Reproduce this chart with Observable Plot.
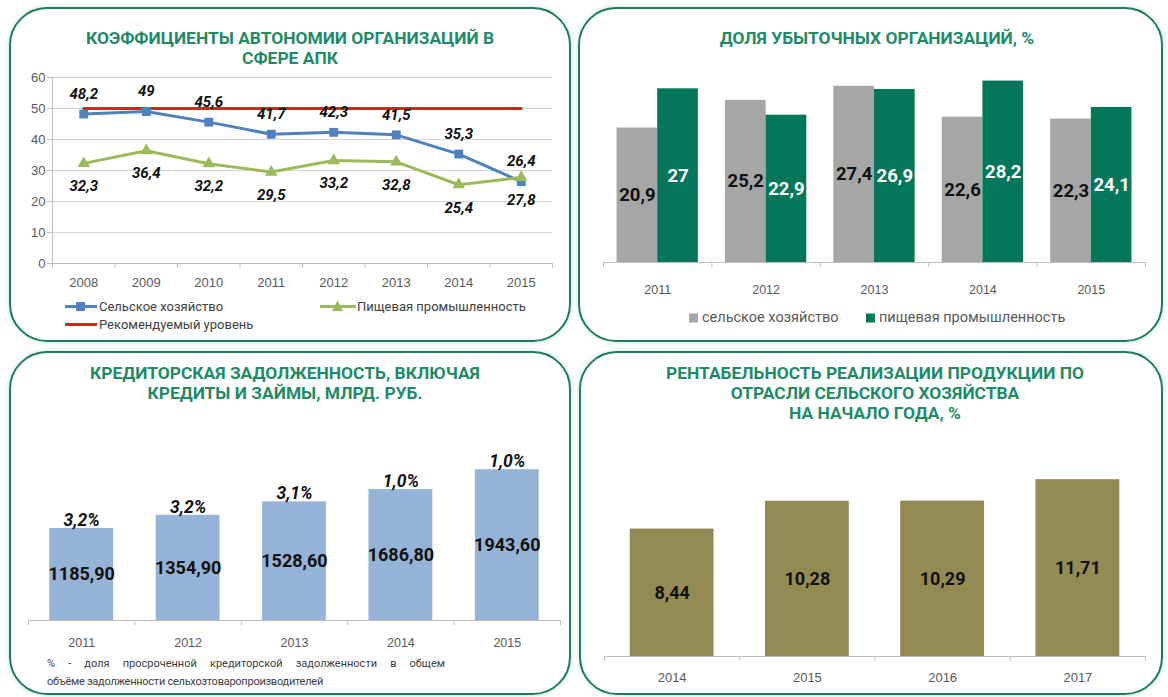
<!DOCTYPE html>
<html>
<head>
<meta charset="utf-8">
<script src="https://cdn.jsdelivr.net/npm/d3@7"></script>
<script src="https://cdn.jsdelivr.net/npm/@observablehq/plot@0.6"></script>
<style>
  body { margin: 0; background: #fff; }
  #page { position: relative; width: 1168px; height: 697px; overflow: hidden; background: #fff; font-family: Roboto, "Open Sans", sans-serif; }
  .panel { position: absolute; border: 2.5px solid #1e7b5c; border-radius: 38px; box-sizing: border-box; box-shadow: 0 0 5px rgba(120,190,170,0.45); }
  .title { position: absolute; text-align: center; color: #1f8a67; font-weight: 700; font-size: 17.4px; line-height: 20px; white-space: nowrap; transform: translateX(-50%); }
  .plot { position: absolute; }
  .legend { position: absolute; color: #404040; white-space: nowrap; display: flex; align-items: center; }
  .legend svg { display: block; }
  .note { position: absolute; font-size: 11px; color: #404040; line-height: 18px; }
</style>
</head>
<body>
<div id="page">
  <div class="panel" style="left:9px;top:7px;width:562px;height:335px"></div>
  <div class="panel" style="left:578px;top:7px;width:585px;height:335px"></div>
  <div class="panel" style="left:9px;top:351px;width:562px;height:344px"></div>
  <div class="panel" style="left:579px;top:351px;width:584px;height:344px"></div>

  <div class="title" style="left:290px;top:28px">КОЭФФИЦИЕНТЫ АВТОНОМИИ ОРГАНИЗАЦИЙ В<br>СФЕРЕ АПК</div>
  <div class="title" style="left:877px;top:28px">ДОЛЯ УБЫТОЧНЫХ ОРГАНИЗАЦИЙ, %</div>
  <div class="title" style="left:285px;top:363px">КРЕДИТОРСКАЯ ЗАДОЛЖЕННОСТЬ, ВКЛЮЧАЯ<br>КРЕДИТЫ И ЗАЙМЫ, МЛРД. РУБ.</div>
  <div class="title" style="left:875px;top:363px">РЕНТАБЕЛЬНОСТЬ РЕАЛИЗАЦИИ ПРОДУКЦИИ ПО<br>ОТРАСЛИ СЕЛЬСКОГО ХОЗЯЙСТВА<br>НА НАЧАЛО ГОДА, %</div>

  <div class="plot" id="p1" style="left:10px;top:60px;width:560px;height:250px"></div>
  <div class="plot" id="p2" style="left:579px;top:60px;width:583px;height:250px"></div>
  <div class="plot" id="p3" style="left:10px;top:400px;width:560px;height:260px"></div>
  <div class="plot" id="p4" style="left:580px;top:430px;width:582px;height:260px"></div>

  <div id="leg1"></div>
  <div id="leg2"></div>

  <div class="note" style="left:47px;top:655px;width:398px;text-align:justify;text-align-last:justify">% - доля просроченной кредиторской задолженности в общем</div>
  <div class="note" style="left:47px;top:673px;letter-spacing:-0.25px">объёме задолженности сельхозтоваропроизводителей</div>
</div>
<script>
// ---------- DATA ----------
const years1 = [2008, 2009, 2010, 2011, 2012, 2013, 2014, 2015];
const agriAutonomy = [48.2, 49, 45.6, 41.7, 42.3, 41.5, 35.3, 26.4];
const foodAutonomy = [32.3, 36.4, 32.2, 29.5, 33.2, 32.8, 25.4, 27.8];
const recommendedLevel = [50, 50, 50, 50, 50, 50, 50, 50];
const yTicks1 = [0, 10, 20, 30, 40, 50, 60];
const series1 = ["Сельское хозяйство", "Пищевая промышленность", "Рекомендуемый уровень"];

const years2 = [2011, 2012, 2013, 2014, 2015];
const agriLoss = [20.9, 25.2, 27.4, 22.6, 22.3];
const foodLoss = [27, 22.9, 26.9, 28.2, 24.1];
const series2 = ["сельское хозяйство", "пищевая промышленность"];

const years3 = [2011, 2012, 2013, 2014, 2015];
const debt = [1185.90, 1354.90, 1528.60, 1686.80, 1943.60];
const overdueShare = [3.2, 3.2, 3.1, 1.0, 1.0];

const years4 = [2014, 2015, 2016, 2017];
const profitability = [8.44, 10.28, 10.29, 11.71];

// ---------- HELPERS ----------
const comma = v => String(v).replace(".", ",");
const fixed = (v, n) => v.toFixed(n).replace(".", ",");
const axisFont = "'Liberation Sans', Arial, sans-serif";
const labelFont = "Roboto, 'Open Sans', sans-serif";
const gridC = "#d6d6d6", axisC = "#bfbfbf";
const C = {blue: "#4f81bd", green: "#9bbb59", red: "#e0201b", gray: "#a6a6a6", dgreen: "#04775a", lblue: "#95b3d7", olive: "#948a54"};

// ---------- PANEL 1 ----------
const d1 = years1.map((y, i) => ({year: y, agri: agriAutonomy[i], food: foodAutonomy[i], rec: recommendedLevel[i]}));
const bounds1 = d3.range(years1[0] - 0.5, years1[years1.length - 1] + 1, 1);
const p1 = Plot.plot({
  width: 560, height: 250, marginTop: 17, marginBottom: 47, marginLeft: 42, marginRight: 18,
  style: {fontFamily: axisFont, fontSize: "13px", color: "#595959", background: "transparent"},
  x: {domain: [years1[0] - 0.5, years1[years1.length - 1] + 0.5], ticks: years1, tickFormat: d => String(d), tickSize: 0, tickPadding: 14, label: null},
  y: {domain: [0, 60], ticks: yTicks1, tickSize: 0, tickPadding: 7, label: null},
  marks: [
    Plot.ruleY(yTicks1, {stroke: gridC, strokeWidth: 1}),
    Plot.ruleY([0], {stroke: axisC}),
    Plot.ruleX([bounds1[0]], {y1: 0, y2: 60, stroke: axisC}),
    Plot.ruleY(yTicks1, {x1: bounds1[0] - 0.08, x2: bounds1[0], stroke: axisC}),
    Plot.ruleX(bounds1, {y1: 0, y2: -1.6, stroke: axisC}),
    Plot.line(d1, {x: "year", y: "rec", stroke: C.red, strokeWidth: 3}),
    Plot.line(d1, {x: "year", y: "agri", stroke: C.blue, strokeWidth: 3}),
    Plot.dot(d1, {x: "year", y: "agri", symbol: "square", r: 5, fill: C.blue, stroke: "none"}),
    Plot.line(d1, {x: "year", y: "food", stroke: C.green, strokeWidth: 3}),
    Plot.dot(d1, {x: "year", y: "food", symbol: "triangle", r: 4.6, fill: C.green, stroke: "none"}),
    Plot.text(d1, {x: "year", y: "agri", text: d => comma(d.agri), dy: -20, fontSize: 15, fontWeight: 700, fontStyle: "italic", fill: "#111", fontFamily: labelFont}),
    Plot.text(d1, {x: "year", y: "food", text: d => comma(d.food), dy: 23, fontSize: 15, fontWeight: 700, fontStyle: "italic", fill: "#111", fontFamily: labelFont})
  ]
});
document.getElementById("p1").append(p1);

// ---------- PANEL 2 ----------
const d2 = years2.map((y, i) => ({year: y, agri: agriLoss[i], food: foodLoss[i]}));
const bounds2 = d3.range(years2[0] - 0.5, years2[years2.length - 1] + 1, 1);
const bw2 = 0.375;
const p2 = Plot.plot({
  width: 583, height: 250, marginTop: 9, marginBottom: 48, marginLeft: 24, marginRight: 17,
  style: {fontFamily: axisFont, fontSize: "12.5px", color: "#595959", background: "transparent"},
  x: {domain: [years2[0] - 0.5, years2[years2.length - 1] + 0.5], ticks: years2, tickFormat: d => String(d), tickSize: 0, tickPadding: 23, label: null},
  y: {domain: [0, 30], axis: null},
  marks: [
    Plot.rectY(d2, {x1: d => d.year - bw2, x2: d => d.year, y1: 0, y2: "agri", fill: C.gray}),
    Plot.rectY(d2, {x1: d => d.year, x2: d => d.year + bw2, y1: 0, y2: "food", fill: C.dgreen}),
    Plot.ruleY([0], {stroke: axisC}),
    Plot.ruleX(bounds2, {y1: 0, y2: -0.8, stroke: axisC}),
    Plot.text(d2, {x: d => d.year - bw2 / 2, y: d => d.agri / 2, text: d => comma(d.agri), fontSize: 18.5, fontWeight: 700, fill: "#111", fontFamily: labelFont}),
    Plot.text(d2, {x: d => d.year + bw2 / 2, y: d => d.food / 2, text: d => comma(d.food), fontSize: 18.5, fontWeight: 700, fill: "#fff", fontFamily: labelFont})
  ]
});
document.getElementById("p2").append(p2);

// ---------- PANEL 3 ----------
const d3data = years3.map((y, i) => ({year: y, debt: debt[i], share: overdueShare[i]}));
const bounds3 = d3.range(years3[0] - 0.5, years3[years3.length - 1] + 1, 1);
const p3 = Plot.plot({
  width: 560, height: 260, marginTop: 26, marginBottom: 40, marginLeft: 18, marginRight: 10,
  style: {fontFamily: axisFont, fontSize: "12.5px", color: "#595959", background: "transparent"},
  x: {domain: [years3[0] - 0.5, years3[years3.length - 1] + 0.5], ticks: years3, tickFormat: d => String(d), tickSize: 0, tickPadding: 18, label: null},
  y: {domain: [0, 2500], axis: null},
  marks: [
    Plot.rectY(d3data, {x1: d => d.year - 0.3, x2: d => d.year + 0.3, y1: 0, y2: "debt", fill: C.lblue}),
    Plot.ruleY([0], {stroke: axisC}),
    Plot.ruleX(bounds3, {y1: 0, y2: -65, stroke: axisC}),
    Plot.text(d3data, {x: "year", y: d => d.debt / 2, text: d => fixed(d.debt, 2), fontSize: 18, fontWeight: 700, fill: "#111", fontFamily: labelFont}),
    Plot.text(d3data, {x: "year", y: "debt", text: d => fixed(d.share, 1) + "%", dy: -8, fontSize: 17.5, fontWeight: 700, fontStyle: "italic", fill: "#111", fontFamily: labelFont})
  ]
});
document.getElementById("p3").append(p3);

// ---------- PANEL 4 ----------
const d4 = years4.map((y, i) => ({year: y, value: profitability[i]}));
const bounds4 = d3.range(years4[0] - 0.5, years4[years4.length - 1] + 1, 1);
const p4 = Plot.plot({
  width: 582, height: 260, marginTop: 14.6, marginBottom: 34, marginLeft: 24, marginRight: 17,
  style: {fontFamily: axisFont, fontSize: "13px", color: "#595959", background: "transparent"},
  x: {domain: [years4[0] - 0.5, years4[years4.length - 1] + 0.5], ticks: years4, tickFormat: d => String(d), tickSize: 0, tickPadding: 16.5, label: null},
  y: {domain: [0, 14], axis: null},
  marks: [
    Plot.rectY(d4, {x1: d => d.year - 0.31, x2: d => d.year + 0.31, y1: 0, y2: "value", fill: C.olive}),
    Plot.ruleY([0], {stroke: axisC}),
    Plot.ruleX(bounds4, {y1: 0, y2: -0.33, stroke: axisC}),
    Plot.text(d4, {x: "year", y: d => d.value / 2, text: d => fixed(d.value, 2), fontSize: 18, fontWeight: 700, fill: "#111", fontFamily: labelFont})
  ]
});
document.getElementById("p4").append(p4);

// ---------- LEGENDS ----------
function lineKey(color, symbol) {
  let m = "";
  if (symbol === "square") m = `<rect x="11" y="2" width="9" height="9" fill="${color}"/>`;
  if (symbol === "triangle") m = `<path d="M17.5,0.5 L23,11 L12,11 Z" fill="${color}"/>`;
  return `<svg width="${symbol === "triangle" ? 36 : 32}" height="13" viewBox="0 0 ${symbol === "triangle" ? 36 : 32} 13"><line x1="0" x2="${symbol === "triangle" ? 36 : 32}" y1="6.5" y2="6.5" stroke="${color}" stroke-width="3"/>${m}</svg>`;
}
const leg1 = document.getElementById("leg1");
leg1.innerHTML =
  `<div class="legend" style="left:65px;top:299px;font-size:13px">${lineKey(C.blue, "square")}<span style="margin-left:2px">${series1[0]}</span></div>` +
  `<div class="legend" style="left:320px;top:299px;font-size:13px">${lineKey(C.green, "triangle")}<span style="margin-left:1px">${series1[1]}</span></div>` +
  `<div class="legend" style="left:65px;top:317px;font-size:13px">${lineKey(C.red, "none")}<span style="margin-left:2px">${series1[2]}</span></div>`;

const sq = c => `<svg width="9" height="10"><rect x="0" y="0.5" width="9" height="9" fill="${c}"/></svg>`;
const leg2 = document.getElementById("leg2");
leg2.innerHTML =
  `<div class="legend" style="left:689px;top:309px;font-size:14.5px;color:#595959">${sq(C.gray)}<span style="margin-left:4px">${series2[0]}</span></div>` +
  `<div class="legend" style="left:866px;top:309px;font-size:14.5px;color:#595959">${sq(C.dgreen)}<span style="margin-left:4px">${series2[1]}</span></div>`;
</script>
</body>
</html>
